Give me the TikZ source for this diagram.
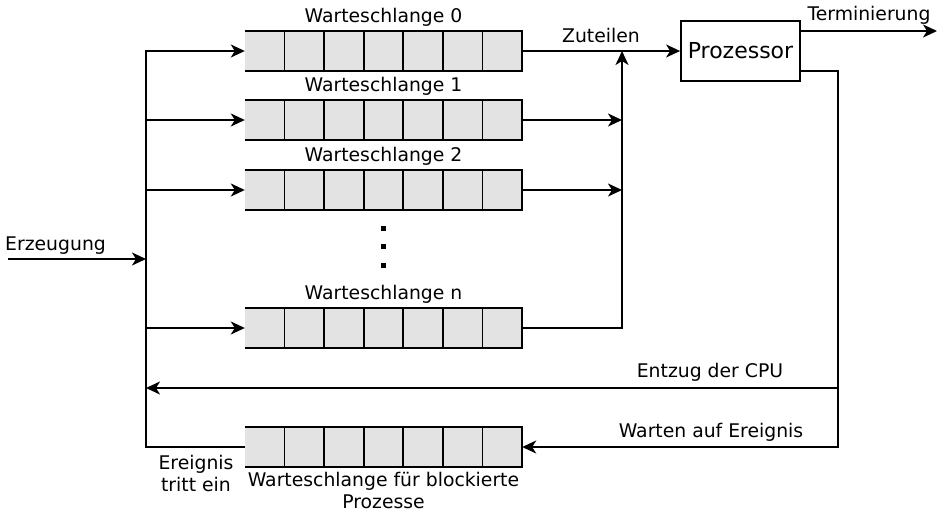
\documentclass[tikz,border=0pt]{standalone}
\usepackage{fontspec}
\setmainfont{DejaVu Sans}
\usetikzlibrary{positioning,calc,arrows.meta}

\begin{document}
\begin{tikzpicture}[x=1pt, y=-1pt,
    every node/.style = {font=\fontsize{18.8}{22}\selectfont, inner sep=2pt},
    queue/.style = {fill=gray!22, minimum width=277pt, minimum height=40pt, inner sep=0pt},
    line/.style = {line width=1.8pt},
    arr/.style = {line, -{Stealth[length=14pt, width=13pt, inset=4pt]}}
    ]
    \useasboundingbox (0,0) rectangle (939,512);
    % queues
    \foreach \n/\y in {0/51, 1/120, 2/190, n/328, b/447}
      \node[queue] (q\n) at (383.5,\y) {};
    \foreach \n in {0,1,2,n,b} {
      \draw[line] (q\n.north west) -- (q\n.north east) -- (q\n.south east) -- (q\n.south west);
      \foreach \i in {1,...,6}
        \draw[line] ($(q\n.north west)!\i/7!(q\n.north east)$) -- ($(q\n.south west)!\i/7!(q\n.south east)$);
    }
    \node (l0) [above=2pt of q0] {Warteschlange 0};
    \node (l1) [above=2pt of q1] {Warteschlange 1};
    \node (l2) [above=2pt of q2] {Warteschlange 2};
    \node (ln) [above=2pt of qn] {Warteschlange n};
    \node (lb) [below=3pt of qb, align=center] {Warteschlange für blockierte\\Prozesse};
    \foreach \y in {228, 246, 265}
      \fill (380.5,\y-2.5) rectangle (385.5,\y+2.5);
    % processor
    \node[draw, line, minimum width=119pt, minimum height=60pt, font=\fontsize{22}{25}\selectfont] (cpu) at (740.5,51) {Prozessor};
    % points
    \coordinate (bus) at (146,51);
    \coordinate (merge) at (622,51);
    \coordinate (src) at (8,259);
    \coordinate (term) at (937,31);
    \coordinate (ret) at (838,71);
    \coordinate (pre) at (838,388);
    % connectors
    \draw[arr] (qb.west) -- (bus |- qb.west) -- (bus) -- (q0.west);
    \draw[arr] (bus |- q1.west) -- (q1.west);
    \draw[arr] (bus |- q2.west) -- (q2.west);
    \draw[arr] (bus |- qn.west) -- (qn.west);
    \draw[arr] (src) -- (bus |- src);
    \draw[arr] (q0.east) -- (cpu.west);
    \draw[arr] (q1.east) -- (merge |- q1.east);
    \draw[arr] (q2.east) -- (merge |- q2.east);
    \draw[arr] (qn.east) -| (merge);
    \draw[arr] (cpu.east |- term) -- (term);
    \draw[arr] (cpu.east |- ret) -- (ret) -- (ret |- qb.east) -- (qb.east);
    \draw[arr] (pre) -- (bus |- pre);
    % labels
    \node (ez) [anchor=south west, inner sep=1pt] at (4,256) {Erzeugung};
    \node (zt) at (601,35) {Zuteilen};
    \node (tm) at (869,15) {Terminierung};
    \node (ec) at (710,372) {Entzug der CPU};
    \node (wa) at (711,432) {Warten auf Ereignis};
    \node (et) [align=center] at (196,473) {Ereignis\\tritt ein};
\end{tikzpicture}
\end{document}
